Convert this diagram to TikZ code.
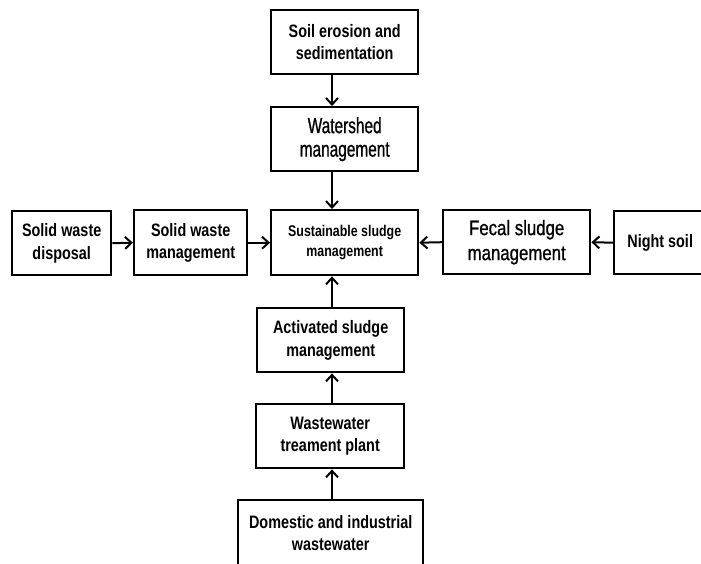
\documentclass[tikz,border=0pt]{standalone}
\usepackage{fontspec}
\newfontfamily\boxfont[FakeStretch=0.8]{Liberation Sans}
\newfontfamily\tallfont[FakeStretch=0.7,FakeBold=0.8]{Liberation Sans}
\newfontfamily\midfont[FakeStretch=0.8,FakeBold=0.8]{Liberation Sans}
\usetikzlibrary{arrows.meta}
\tikzstyle{block} = [draw=black, line width=2.4pt, inner sep=0pt, align=center, anchor=north west,
  font=\boxfont\bfseries\fontsize{18}{22.5}\selectfont]
\tikzstyle{flow} = [line width=2pt, -{Straight Barb[length=6.5pt,width=12pt]}]

\begin{document}
\begin{tikzpicture}[x=1pt, y=-1pt]
\useasboundingbox (0,0) rectangle (701,563);
\coordinate (spine) at (332,0);
% top column
\node [block, minimum width=147pt, minimum height=64pt] (soil) at (270,9) {Soil erosion and\\sedimentation};
\node [block, minimum width=147pt, minimum height=64pt, font=\tallfont\fontsize{22}{23.5}\selectfont] (water) at (270,106) {Watershed\\management};
% middle row
\node [block, minimum width=99pt, minimum height=64pt] (swd) at (11,210) {Solid waste\\disposal};
\node [block, minimum width=113pt, minimum height=65pt] (swm) at (133,209) {Solid waste\\management};
\node [block, minimum width=147pt, minimum height=65pt, font=\boxfont\bfseries\fontsize{15.5}{20.5}\selectfont] (sust) at (270,209) {Sustainable sludge\\management};
\node [block, minimum width=147pt, minimum height=64pt, font=\midfont\fontsize{21}{25}\selectfont] (fecal) at (442,209) {Fecal sludge\\management};
\node [block, minimum width=92pt, minimum height=63pt] (night) at (613,210) {Night soil};
% bottom column
\node [block, minimum width=147pt, minimum height=64pt] (act) at (256,307) {Activated sludge\\management};
\node [block, minimum width=148pt, minimum height=64pt] (wwtp) at (255,403) {Wastewater\\treament plant};
\node [block, minimum width=185pt, minimum height=66pt] (dom) at (237,499) {Domestic and industrial\\wastewater};
% arrows
\draw [flow] (soil.south -| spine) -- (water.north -| spine);
\draw [flow] (water.south -| spine) -- (sust.north -| spine);
\draw [flow] (act.north -| spine) -- (sust.south -| spine);
\draw [flow] (wwtp.north -| spine) -- (act.south -| spine);
\draw [flow] (dom.north -| spine) -- (wwtp.south -| spine);
\draw [flow] (swd.east) -- (swm.west);
\draw [flow] (swm.east) -- (sust.west);
\draw [flow] (fecal.west) -- (sust.east);
\draw [flow] (night.west) -- (fecal.east);
\end{tikzpicture}
\end{document}
